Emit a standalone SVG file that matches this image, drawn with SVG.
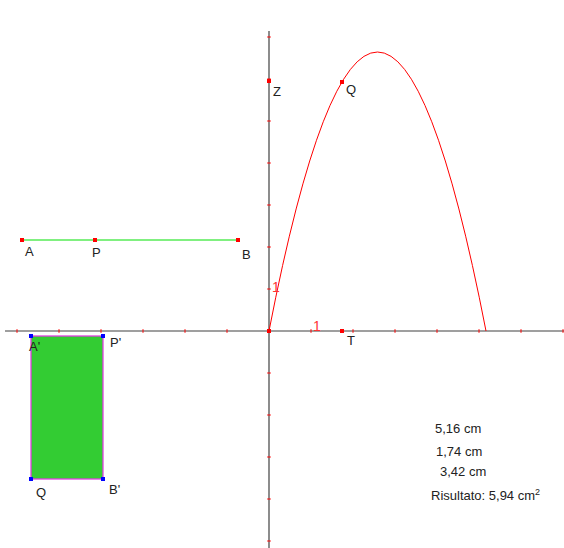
<svg xmlns="http://www.w3.org/2000/svg" width="564" height="548" viewBox="0 0 564 548">
<style>
.ax{stroke:#404040;stroke-width:1.2;fill:none}
.tk{stroke:#ff0000;stroke-width:1}
.lbl{font-family:"Liberation Sans",Arial,sans-serif;font-size:13px;fill:#222}
.one{font-family:"Liberation Sans",Arial,sans-serif;font-size:14px;fill:#ff3333}
.rp{fill:#ff0000}
.bp{fill:#0000ff}
</style>
<defs>
<path id="tx" d="M0,-1.8V1.8" class="tk"/>
<path id="ty" d="M-1.8,0H1.8" class="tk"/>
</defs>
<rect width="564" height="548" fill="#fff"/>
<g id="connectors">
<path id="x-axis" class="ax" d="M5,331H564"/>
<path id="y-axis" class="ax" d="M269,31V548"/>
<g id="ticks-x">
<use href="#tx" x="17" y="331"/><use href="#tx" x="59" y="331"/><use href="#tx" x="101" y="331"/><use href="#tx" x="143" y="331"/><use href="#tx" x="185" y="331"/><use href="#tx" x="227" y="331"/><use href="#tx" x="311" y="331"/><use href="#tx" x="353" y="331"/><use href="#tx" x="395" y="331"/><use href="#tx" x="437" y="331"/><use href="#tx" x="479" y="331"/><use href="#tx" x="521" y="331"/><use href="#tx" x="563" y="331"/>
</g>
<g id="ticks-y">
<use href="#ty" x="269" y="37"/><use href="#ty" x="269" y="79"/><use href="#ty" x="269" y="121"/><use href="#ty" x="269" y="163"/><use href="#ty" x="269" y="205"/><use href="#ty" x="269" y="247"/><use href="#ty" x="269" y="289"/><use href="#ty" x="269" y="373"/><use href="#ty" x="269" y="415"/><use href="#ty" x="269" y="457"/><use href="#ty" x="269" y="499"/><use href="#ty" x="269" y="541"/>
</g>
<path id="parabola" d="M269,331Q377.5,-227 486,331" fill="none" stroke="#ff0000" stroke-width="1"/>
<path id="segment-AB" d="M22,240H238" stroke="#80f080" stroke-width="2"/>
</g>
<text class="one" x="272" y="292">1</text>
<text class="one" x="313" y="331">1</text>
<g id="Z"><rect class="rp" x="267" y="79" width="4" height="4"/><text class="lbl" x="273" y="96">Z</text></g>
<g id="Q"><rect class="rp" x="340" y="80" width="4" height="4"/><text class="lbl" x="346" y="94">Q</text></g>
<g id="T"><rect class="rp" x="340" y="329" width="4" height="4"/><rect class="rp" x="267" y="329" width="4" height="4"/><text class="lbl" x="347" y="345">T</text></g>
<g id="A"><rect class="rp" x="20" y="238" width="4" height="4"/><text class="lbl" x="25" y="256">A</text></g>
<g id="P"><rect class="rp" x="93" y="238" width="4" height="4"/><text class="lbl" x="92" y="257">P</text></g>
<g id="B"><rect class="rp" x="236" y="238" width="4" height="4"/><text class="lbl" x="242" y="259">B</text></g>
<g id="rectangle">
<rect x="31" y="336" width="72" height="143" fill="#33cc33" stroke="#e040e0" stroke-width="1.3"/>
<rect class="bp" x="29" y="334" width="4" height="4"/>
<rect class="bp" x="101" y="334" width="4" height="4"/>
<rect class="bp" x="29" y="477" width="4" height="4"/>
<rect class="bp" x="101" y="477" width="4" height="4"/>
<text class="lbl" x="29" y="351">A'</text>
<text class="lbl" x="110" y="347">P'</text>
<text class="lbl" x="36" y="497">Q</text>
<text class="lbl" x="109" y="494">B'</text>
</g>
<g id="results">
<text class="lbl" x="435" y="433">5,16 cm</text>
<text class="lbl" x="436" y="456">1,74 cm</text>
<text class="lbl" x="440" y="476">3,42 cm</text>
<text class="lbl" x="431" y="500">Risultato: 5,94 cm<tspan font-size="9" dy="-5">2</tspan></text>
</g>
</svg>
